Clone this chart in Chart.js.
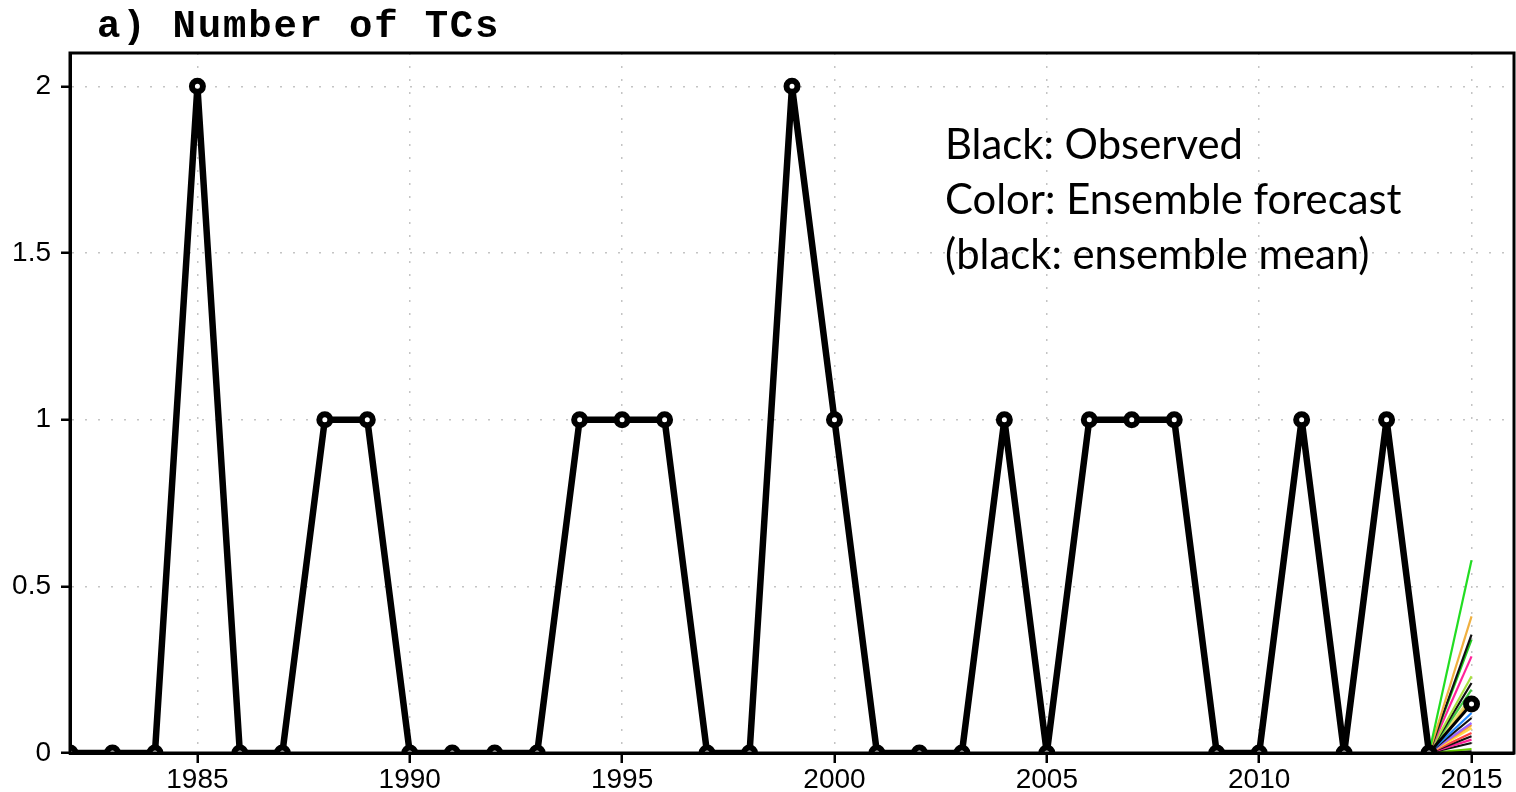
<!DOCTYPE html>
<html>
<head>
<meta charset="utf-8">
<script src="https://cdn.jsdelivr.net/npm/chart.js@4"></script>
<style>
  html, body { margin: 0; padding: 0; background: #fff; }
  #wrap { width: 1516px; height: 792px; }
</style>
</head>
<body>
<div id="wrap"><canvas id="c" width="1516" height="792"></canvas></div>
<script>
// observed TC counts, 1982-2014
const years = [1982, 1983, 1984, 1985, 1986, 1987, 1988, 1989, 1990, 1991, 1992,
  1993, 1994, 1995, 1996, 1997, 1998, 1999, 2000, 2001, 2002, 2003, 2004, 2005,
  2006, 2007, 2008, 2009, 2010, 2011, 2012, 2013, 2014];
const observed = [0, 0, 0, 2, 0, 0, 1, 1, 0, 0, 0,
  0, 1, 1, 1, 0, 0, 2, 1, 0, 0, 0, 1, 0,
  1, 1, 1, 0, 0, 1, 0, 1, 0];

// 2015 forecast
const forecastYear = 2015;
const ensembleMean = 0.147;
const ensembleMembers = [0.578, 0.41, 0.355, 0.34, 0.29, 0.23, 0.21, 0.19, 0.17, 0.16,
  0.12, 0.105, 0.09, 0.084, 0.075, 0.06, 0.05, 0.04, 0.03, 0.012, 0.005];
const memberColors = ['#22dd22', '#f0b040', '#111111', '#22cc22', '#ff2299', '#a8e040', '#111111', '#44cc44', '#e8e070', '#f0b040',
  '#2288ff', '#111111', '#9966ff', '#ff9933', '#ffdd44', '#ff4444', '#111111', '#ff2299', '#111111', '#66cc00', '#111111'];

const xTicks = [1985, 1990, 1995, 2000, 2005, 2010, 2015];
const yTicks = [0, 0.5, 1, 1.5, 2];

const lastYear = years[years.length - 1];
const lastObs = observed[observed.length - 1];

let datasets = [];

datasets.push({
  label: 'Observed',
  data: years.map((y, i) => ({ x: y, y: observed[i] })),
  borderColor: '#000',
  borderWidth: 6.5,
  borderJoinStyle: 'round',
  pointRadius: 5.5,
  pointBorderWidth: 6,
  pointBackgroundColor: '#fff',
  pointBorderColor: '#000',
  clip: 0,
  order: 0
});

datasets.push({
  label: 'Ensemble mean',
  data: [{ x: lastYear, y: lastObs }, { x: forecastYear, y: ensembleMean }],
  borderColor: '#000',
  borderWidth: 3,
  pointRadius: ctx => ctx.dataIndex === 1 ? 5.5 : 0,
  pointBorderWidth: 6,
  pointBackgroundColor: '#fff',
  pointBorderColor: '#000',
  clip: 0,
  order: 1
});

for (let i = 0; i < ensembleMembers.length; i++) {
  datasets.push({
    label: 'Member ' + (i + 1),
    data: [{ x: lastYear, y: lastObs }, { x: forecastYear, y: ensembleMembers[i] }],
    borderColor: memberColors[i],
    borderWidth: 2.2,
    pointRadius: 0,
    clip: 0,
    order: 2
  });
}

const frameAndText = {
  id: 'frameAndText',
  afterDatasetsDraw(chart) {
    const { ctx, chartArea: a } = chart;
    ctx.save();
    ctx.strokeStyle = '#000';
    ctx.lineWidth = 3;
    ctx.strokeRect(a.left, a.top, a.right - a.left, a.bottom - a.top);

    // annotation
    ctx.fillStyle = '#000';
    ctx.textAlign = 'left';
    ctx.textBaseline = 'alphabetic';
    ctx.font = '34px Lato';
    let w = ctx.measureText('Color: Ensemble forecast').width;
    let size = 34 * 457 / w;
    ctx.font = size.toFixed(1) + 'px Lato';
    ctx.fillText('Black: Observed', 945, 159);
    ctx.fillText('Color: Ensemble forecast', 945, 214);
    ctx.fillText('(black: ensemble mean)', 945, 269);
    ctx.restore();
  },
  afterDraw(chart) {
    const { ctx } = chart;
    ctx.save();
    ctx.fillStyle = '#000';
    ctx.font = 'bold 39px "Courier New", "Liberation Mono", monospace';
    ctx.letterSpacing = '1.8px';
    ctx.textBaseline = 'alphabetic';
    ctx.fillText('a) Number of TCs', 97, 37);
    ctx.restore();
  }
};

new Chart(document.getElementById('c'), {
  type: 'line',
  data: { datasets },
  options: {
    responsive: false,
    animation: false,
    devicePixelRatio: 1,
    layout: { autoPadding: false, padding: { top: 53, right: 2, left: 0, bottom: 0 } },
    plugins: { legend: { display: false }, tooltip: { enabled: false }, title: { display: false } },
    elements: { line: { tension: 0 } },
    scales: {
      x: {
        type: 'linear',
        min: 1982,
        max: 2016,
        afterBuildTicks: s => { s.ticks = xTicks.map(v => ({ value: v })); },
        afterFit: s => { s.height = 39; s.paddingLeft = 0; s.paddingRight = 0; },
        ticks: {
          color: '#000',
          font: { family: '"Liberation Sans", Arial, sans-serif', size: 28 },
          padding: 0,
          maxRotation: 0,
          callback: v => String(v)
        },
        grid: { color: '#c4c4c4', lineWidth: 1.5, tickLength: 10, tickColor: '#000', tickWidth: 2.5 },
        border: { display: true, color: '#000', width: 3, dash: [2, 11] }
      },
      y: {
        min: 0,
        max: 2.1,
        afterBuildTicks: s => { s.ticks = yTicks.map(v => ({ value: v })); },
        afterFit: s => { s.width = 70; s.paddingTop = 0; s.paddingBottom = 0; },
        ticks: {
          color: '#000',
          font: { family: '"Liberation Sans", Arial, sans-serif', size: 28 },
          padding: 10,
          callback: v => String(v)
        },
        grid: { color: '#c4c4c4', lineWidth: 1.5, tickLength: 9, tickColor: '#000', tickWidth: 2.5 },
        border: { display: true, color: '#000', width: 3, dash: [2, 11] }
      }
    }
  },
  plugins: [frameAndText]
});
</script>
</body>
</html>
